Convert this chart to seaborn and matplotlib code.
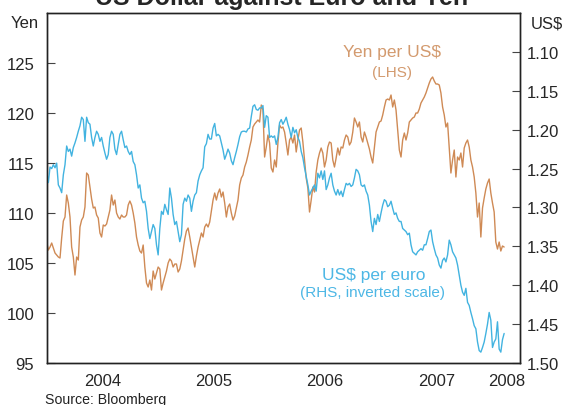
import pandas as pd
import matplotlib
matplotlib.use('Agg')
import matplotlib.pyplot as plt
import seaborn as sns

# Yen per US$ (LHS) in consecutive stretches
yen_part1 = [107.1, 106.3, 106.6, 107.0, 106.5, 106.0, 105.8, 105.6, 105.5, 107.5,
             109.2, 109.6, 111.8, 111.0, 109.6, 106.6, 105.6, 103.8, 105.6, 105.3,
             108.6, 109.3, 109.6, 110.6, 114.0, 113.8, 112.6, 111.4, 110.5, 110.6,
             109.8, 109.5, 108.0, 107.6, 108.8, 108.7, 108.9, 109.6, 110.3, 111.8,
             110.8, 111.3, 110.0, 109.6, 109.4, 109.8, 109.6, 109.6, 109.8, 110.8,
             111.2, 110.8, 110.0, 109.0, 107.6, 106.8, 106.2, 106.0, 106.8, 104.6,
             103.0, 102.6, 103.3, 102.3]
yen_part2 = [104.2, 103.4, 104.0, 104.6, 104.4, 102.3, 103.0, 103.6, 104.2, 105.0,
             105.4, 105.2, 104.6, 104.9, 104.9, 104.1, 104.4, 105.2, 106.3, 107.4,
             108.2, 108.5, 107.6, 106.6, 105.6, 104.6, 105.7, 106.6, 107.3, 108.0,
             107.6, 108.6, 108.9, 108.6, 109.1, 110.2, 111.3, 112.0, 111.3, 112.0,
             112.4, 111.6, 112.1, 111.0, 109.6, 110.6, 110.9, 110.0, 109.3, 109.7,
             110.5, 111.3, 112.8, 113.5, 113.8, 114.6, 115.1, 115.8, 116.6, 117.3,
             118.6, 118.9, 119.1, 119.3, 119.1]
yen_part3 = [120.8, 120.3, 115.6, 116.6, 117.8, 117.0, 114.5, 114.1, 115.3, 114.6,
             117.0, 118.8, 118.5, 118.6, 118.1, 117.0, 115.8, 117.3, 117.6, 117.0,
             117.8, 116.1, 117.3, 118.3, 118.5, 117.1, 115.3, 113.5, 112.5, 110.1,
             111.3, 112.6, 112.1, 114.1, 115.3, 116.0, 116.5, 116.0, 114.6, 115.3,
             116.6, 117.1, 117.0, 115.3, 114.6, 115.5, 116.5, 115.8, 116.6, 116.5,
             117.3, 117.8, 117.6, 116.8, 117.1, 118.1, 119.5, 119.1, 118.6, 119.1,
             117.6, 117.1, 118.1]
yen_part4 = [117.6, 117.0, 116.4, 115.6, 115.0, 116.6, 118.1, 118.6, 119.1, 119.2,
             119.8, 120.6, 121.3, 121.4, 121.3, 121.8, 120.6, 121.3, 120.3, 118.3,
             116.3, 115.6, 117.3, 118.0, 117.3, 118.0, 119.1, 119.3, 119.5, 119.6,
             120.0, 120.0, 120.4, 121.0, 121.3, 121.6, 122.0, 122.5, 123.0, 123.4,
             123.6, 123.2, 122.9, 122.9, 122.8, 122.0, 120.6, 119.8, 118.6, 119.0,
             116.5, 114.0, 115.3, 116.3, 113.6, 115.6, 115.3, 116.0, 114.6, 116.5,
             117.0, 117.3, 116.6, 115.3, 114.6, 113.6, 112.0, 109.6, 111.0]
yen_part5 = [107.6, 110.5, 111.5, 112.4, 113.0, 113.4, 112.0, 111.0, 110.1, 107.1,
             106.4, 107.1, 106.2, 106.7, 106.6]

# US$ per euro (RHS, inverted scale)
eur_part1 = [1.253, 1.268, 1.248, 1.250, 1.245, 1.249, 1.243, 1.271, 1.275, 1.281,
             1.258, 1.245, 1.221, 1.228, 1.225, 1.234, 1.223, 1.217, 1.210, 1.202,
             1.195, 1.184, 1.187, 1.215, 1.184, 1.191, 1.193, 1.210, 1.221, 1.210,
             1.202, 1.206, 1.215, 1.210, 1.221, 1.230, 1.238, 1.232, 1.210, 1.202,
             1.206, 1.225, 1.232, 1.219, 1.206, 1.202, 1.213, 1.223, 1.221, 1.228,
             1.232, 1.228, 1.241, 1.245, 1.258, 1.275, 1.271, 1.288, 1.294, 1.292,
             1.305, 1.327, 1.340, 1.331]
eur_part2 = [1.322, 1.327, 1.348, 1.361, 1.327, 1.305, 1.309, 1.296, 1.303, 1.309,
             1.275, 1.288, 1.309, 1.322, 1.318, 1.331, 1.344, 1.335, 1.296, 1.288,
             1.292, 1.284, 1.288, 1.305, 1.292, 1.284, 1.281, 1.266, 1.258, 1.253,
             1.249, 1.222, 1.218, 1.206, 1.212, 1.212, 1.198, 1.192, 1.208, 1.206,
             1.208, 1.217, 1.226, 1.238, 1.232, 1.225, 1.230, 1.240, 1.245, 1.236,
             1.228, 1.219, 1.209, 1.203, 1.202, 1.202, 1.203, 1.199, 1.198, 1.183,
             1.170, 1.168, 1.174, 1.175, 1.172]
eur_part3 = [1.172, 1.169, 1.197, 1.182, 1.184, 1.210, 1.208, 1.210, 1.208, 1.219,
             1.210, 1.191, 1.187, 1.193, 1.189, 1.184, 1.193, 1.200, 1.210, 1.197,
             1.204, 1.200, 1.210, 1.215, 1.228, 1.236, 1.249, 1.260, 1.271, 1.284,
             1.279, 1.275, 1.271, 1.279, 1.256, 1.262, 1.253, 1.264, 1.253, 1.277,
             1.271, 1.262, 1.256, 1.271, 1.279, 1.284, 1.277, 1.284, 1.279, 1.286,
             1.277, 1.269, 1.271, 1.269, 1.273, 1.271, 1.262, 1.251, 1.253, 1.258,
             1.271, 1.273, 1.271]
eur_part4 = [1.279, 1.284, 1.297, 1.318, 1.331, 1.314, 1.322, 1.309, 1.318, 1.307,
             1.297, 1.290, 1.292, 1.299, 1.297, 1.292, 1.301, 1.309, 1.307, 1.314,
             1.318, 1.318, 1.327, 1.329, 1.331, 1.335, 1.333, 1.348, 1.357, 1.359,
             1.361, 1.357, 1.355, 1.353, 1.355, 1.348, 1.348, 1.340, 1.331, 1.329,
             1.344, 1.353, 1.361, 1.365, 1.374, 1.378, 1.368, 1.365, 1.370, 1.361,
             1.342, 1.348, 1.357, 1.361, 1.365, 1.374, 1.387, 1.400, 1.409, 1.413,
             1.404, 1.422, 1.426, 1.435, 1.443, 1.452, 1.456, 1.473, 1.484]
eur_part5 = [1.486, 1.480, 1.473, 1.462, 1.450, 1.435, 1.445, 1.480, 1.473, 1.469,
             1.447, 1.482, 1.486, 1.470, 1.462]

first_day = '2004-01-01'
last_day = '2008-02-08'
axis_end = '2008-03-31'
year_labels = ['2004', '2005', '2006', '2007', '2008']
year_label_dates = ['2004-07-01', '2005-07-01', '2006-07-01', '2007-07-01', '2008-02-15']
year_breaks = ['2005-01-01', '2006-01-01', '2007-01-01', '2008-01-01']
yen_ticks = [95, 100, 105, 110, 115, 120, 125]
eur_ticks = [1.10, 1.15, 1.20, 1.25, 1.30, 1.35, 1.40, 1.45, 1.50]

yen = yen_part1 + yen_part2 + yen_part3 + yen_part4 + yen_part5
eur = eur_part1 + eur_part2 + eur_part3 + eur_part4 + eur_part5
df = pd.DataFrame({
    'date': pd.date_range(first_day, last_day, periods=len(yen)),
    'yen': yen,
    'eur': eur,
})

orange = '#CF8A55'
blue = '#42B3E0'

sns.set_style('white')
plt.rcParams['font.family'] = ['Liberation Sans', 'DejaVu Sans']

fig = plt.figure(figsize=(5.64, 4.06), dpi=100)
ax = fig.add_axes([0.0828, 0.1034, 0.8392, 0.8621])
ax2 = ax.twinx()

sns.lineplot(data=df, x='date', y='yen', ax=ax, color=orange, linewidth=1.0)
sns.lineplot(data=df, x='date', y='eur', ax=ax2, color=blue, linewidth=1.0)

ax.set_xlim(pd.Timestamp(first_day), pd.Timestamp(axis_end))
ax.set_ylim(95, 130)
ax2.set_ylim(1.50, 1.05)

ax.set_xticks(pd.to_datetime(year_breaks))
ax.set_xticklabels([])
ax.set_xticks(pd.to_datetime(year_label_dates), minor=True)
ax.set_xticklabels(year_labels, minor=True)
ax.tick_params(axis='x', which='major', direction='in', length=5, width=0.8, color='#444')
ax.tick_params(axis='x', which='minor', length=0, pad=7, labelsize=12)

ax.set_yticks(yen_ticks)
ax.set_yticklabels([str(v) for v in yen_ticks])
ax.tick_params(axis='y', direction='in', length=6, width=0.8, color='#444', pad=9, labelsize=12)
ax2.set_yticks(eur_ticks)
ax2.set_yticklabels([f'{v:.2f}' for v in eur_ticks])
ax2.tick_params(axis='y', direction='in', length=6, width=0.8, color='#444', pad=5, labelsize=12)

for a in (ax, ax2):
    a.set_xlabel('')
    a.set_ylabel('')
    for s in a.spines.values():
        s.set_color('#222222')
        s.set_linewidth(1.0)

fig.text(0.0443, 0.941, 'Yen', ha='center', va='center', fontsize=12)
fig.text(0.970, 0.941, 'US$', ha='center', va='center', fontsize=12)
fig.text(0.5, 0.9867, 'US Dollar against Euro and Yen', ha='center', va='baseline',
         fontsize=18, fontweight='bold')
fig.text(0.080, 0.006, 'Source: Bloomberg', ha='left', va='baseline', fontsize=10.2, color='#222')

fig.text(391.7 / 564, 1 - 52.5 / 406, 'Yen per US$', ha='center', va='center',
         fontsize=12.5, color='#D39A6E')
fig.text(391.7 / 564, 1 - 73.5 / 406, '(LHS)', ha='center', va='center',
         fontsize=11, color='#D39A6E')
fig.text(373.3 / 564, 1 - 275.5 / 406, 'US$ per euro', ha='center', va='center',
         fontsize=12.5, color='#4DB7E5')
fig.text(372.5 / 564, 1 - 293.5 / 406, '(RHS, inverted scale)', ha='center', va='center',
         fontsize=11, color='#4DB7E5')

fig.savefig('out.png', dpi=100)
